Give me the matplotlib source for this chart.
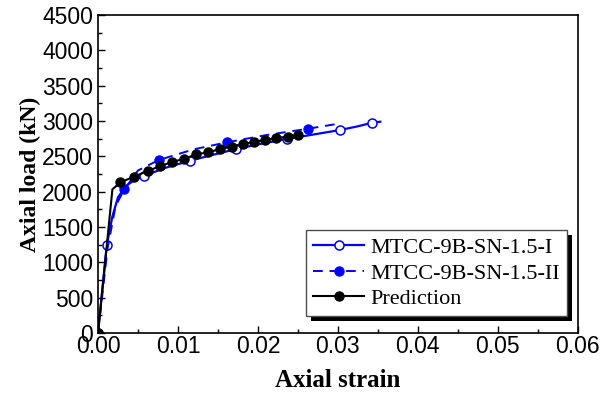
import matplotlib
matplotlib.use("Agg")
import matplotlib.pyplot as plt
import matplotlib.patheffects as pe
from matplotlib.ticker import MultipleLocator

# Specimen MTCC-9B-SN-1.5-I (test curve, open markers)
strain_1 = [0.0, 0.0011, 0.0018, 0.0025, 0.0035, 0.0045, 0.0057, 0.0085, 0.0115,
            0.0145, 0.0173, 0.0205, 0.0236, 0.0270, 0.0303, 0.0325, 0.0343, 0.0353]
load_1 = [0, 1245, 1650, 1920, 2080, 2160, 2222, 2340, 2438,
          2525, 2604, 2680, 2745, 2810, 2873, 2925, 2976, 2990]
marks_1 = [0, 1, 6, 8, 10, 12, 14, 16]

# Specimen MTCC-9B-SN-1.5-II (test curve, filled markers)
strain_2 = [0.0, 0.0006, 0.0012, 0.0022, 0.0033, 0.0050, 0.0076, 0.0120,
            0.0161, 0.0210, 0.0263, 0.0298]
load_2 = [0, 600, 1200, 1800, 2033, 2300, 2448, 2600,
          2698, 2800, 2891, 2957]
marks_2 = [0, 4, 6, 8, 10]

# Model prediction
strain_p = [0.0, 0.0018, 0.0028, 0.0045, 0.0062, 0.0078, 0.0093, 0.0108, 0.0123,
            0.0138, 0.0153, 0.0167, 0.0181, 0.0195, 0.0209, 0.0223, 0.0237, 0.0250]
load_p = [0, 2033, 2132, 2212, 2292, 2363, 2420, 2466, 2529,
          2557, 2604, 2636, 2670, 2707, 2731, 2759, 2778, 2806]
marks_p = [0] + list(range(2, 18))

x_ticks = [0.00, 0.01, 0.02, 0.03, 0.04, 0.05, 0.06]
y_ticks = [0, 500, 1000, 1500, 2000, 2500, 3000, 3500, 4000, 4500]

fig = plt.figure(figsize=(6.05, 4.0), dpi=100)
ax = fig.add_axes([0.162, 0.1675, 0.793, 0.795])

ax.plot(strain_1, load_1, color="#0000ff", lw=1.6, ls="-", marker="o", ms=6.5,
        mfc="white", mec="#0000ff", mew=1.1, markevery=marks_1,
        label="MTCC-9B-SN-1.5-I")
ax.plot(strain_2, load_2, color="#0000ff", lw=1.4, ls=(0, (5, 3.5)), marker="o", ms=6.5,
        mfc="#0000ff", mec="#0000ff", markevery=marks_2,
        label="MTCC-9B-SN-1.5-II")
ax.plot(strain_p, load_p, color="black", lw=1.5, ls="-", marker="o", ms=6.5,
        mfc="black", mec="black", markevery=marks_p,
        label="Prediction")

ax.set_xlim(0, 0.06)
ax.set_ylim(0, 4500)
ax.set_xticks(x_ticks)
ax.set_xticklabels([f"{v:.2f}" for v in x_ticks])
ax.set_yticks(y_ticks)
ax.set_yticklabels([str(v) for v in y_ticks])
ax.xaxis.set_minor_locator(MultipleLocator(0.005))
ax.yaxis.set_minor_locator(MultipleLocator(250))

ax.tick_params(which="both", direction="in", top=False, right=False,
               labelsize=16.5, width=1.0)
ax.tick_params(axis="y", pad=3.5)
ax.tick_params(axis="x", pad=1.5)
ax.tick_params(which="major", length=5)
ax.tick_params(which="minor", length=3)
for lbl in ax.get_xticklabels() + ax.get_yticklabels():
    lbl.set_fontfamily("Liberation Sans")
for sp in ax.spines.values():
    sp.set_linewidth(1.2)

ax.set_xlabel("Axial strain", fontfamily="Liberation Serif", fontweight="bold",
              fontsize=18, labelpad=8)
ax.set_ylabel("Axial load (kN)", fontfamily="Liberation Serif", fontweight="bold",
              fontsize=17, labelpad=1)

leg = ax.legend(loc="lower right", bbox_to_anchor=(0.977, 0.053), frameon=True,
                fancybox=False, framealpha=1, edgecolor="0.3", handlelength=2.3,
                handletextpad=0.25, borderpad=0.32, labelspacing=0.22,
                borderaxespad=0.0,
                prop={"family": "Liberation Serif", "size": 16})
leg.get_frame().set_linewidth(1.0)
leg.get_frame().set_path_effects([
    pe.SimplePatchShadow(offset=(3.5, -3.5), shadow_rgbFace="black", alpha=1.0),
    pe.Normal(),
])

fig.savefig("out.png", dpi=100)
